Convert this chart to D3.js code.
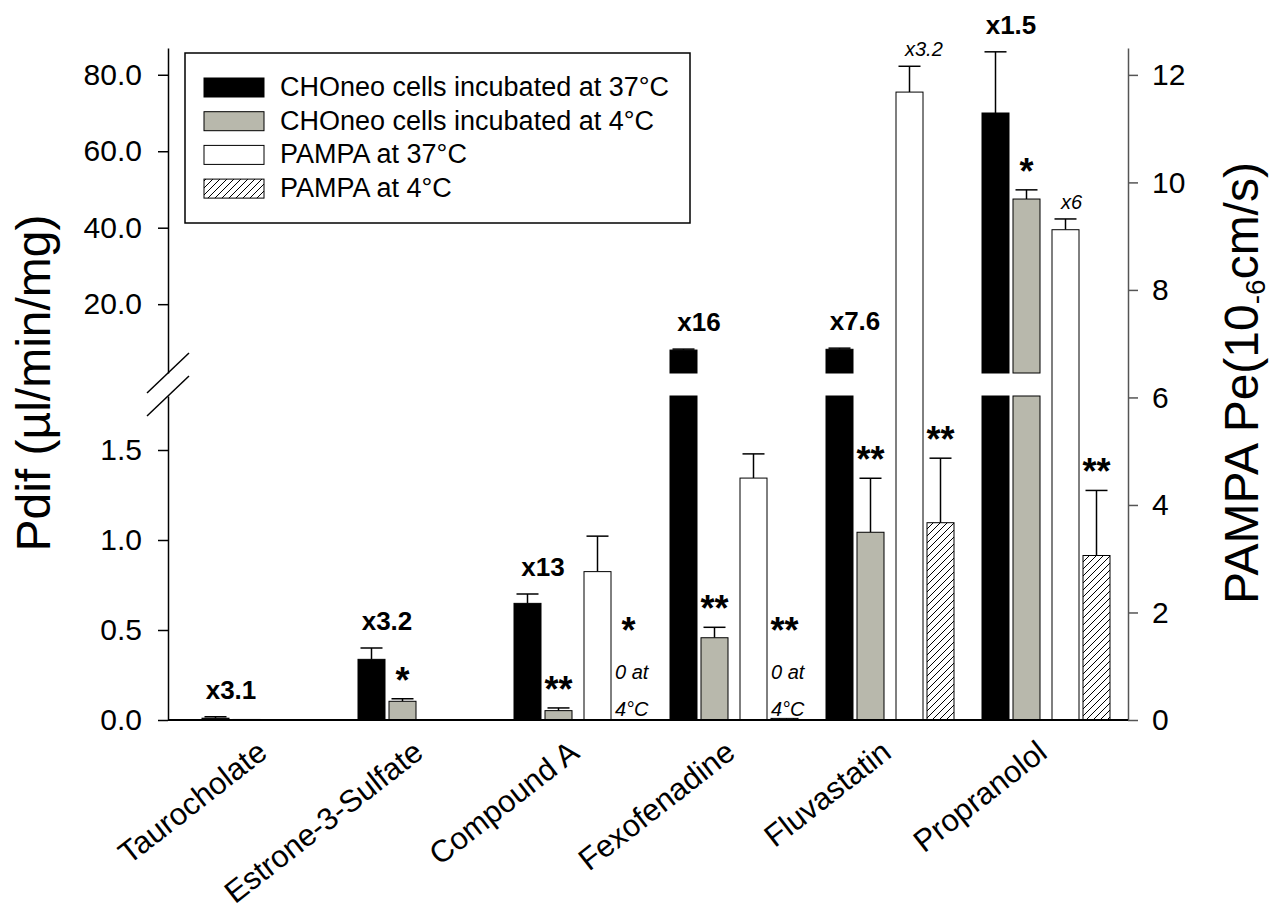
<!DOCTYPE html>
<html>
<head>
<meta charset="utf-8">
<script src="https://cdn.jsdelivr.net/npm/d3@7"></script>
<style>
body { margin: 0; background: #fff; }
svg { display: block; font-family: "Liberation Sans", Arial, sans-serif; }
</style>
</head>
<body>
<div id="chart"></div>
<script>
"use strict"
// values
const categories = ["Taurocholate", "Estrone-3-Sulfate", "Compound A", "Fexofenadine", "Fluvastatin", "Propranolol"];
const legendLabels = ["CHOneo cells incubated at 37°C", "CHOneo cells incubated at 4°C", "PAMPA at 37°C", "PAMPA at 4°C"];

// Pdif (left axis, µl/min/mg)
const cells37 = [0.01, 0.337, 0.648, 8.0, 8.2, 70.0];
const cells37Err = [0.008, 0.063, 0.052, 0.25, 0.3, 16.0];
const cells4 = [0.003, 0.104, 0.052, 0.457, 1.043, 47.5];
const cells4Err = [0, 0.014, 0.015, 0.058, 0.30, 2.4];
// PAMPA Pe (right axis, 10-6 cm/s)
const pampa37 = [null, null, 2.76, 4.50, 11.68, 9.12];
const pampa37Err = [null, null, 0.66, 0.45, 0.48, 0.20];
const pampa4 = [null, null, 0, 0.03, 3.67, 3.06];
const pampa4Err = [null, null, 0, 0, 1.20, 1.21];

// annotations
const foldCells = ["x3.1", "x3.2", "x13", "x16", "x7.6", "x1.5"];
const foldPampa = [null, null, null, null, "x3.2", "x6"];
const sigCells4 = ["", "*", "**", "**", "**", "*"];
const sigPampa4 = ["", "", "*", "**", "**", "**"];
const zeroAt4 = [false, false, true, true, false, false];
const zeroNote = ["0 at", "4°C"];

// tick values
const leftLowTicks = [0, 0.5, 1.0, 1.5];
const leftHighTicks = [20, 40, 60, 80];
const rightTicks = [0, 2, 4, 6, 8, 10, 12];

const W = 1276, H = 911;
const plotLeft = 168, plotRight = 1128, baseY = 720, topY = 48;

const svg = d3.select("#chart").append("svg").attr("width", W).attr("height", H);

const defs = svg.append("defs");
defs.append("pattern").attr("id", "hatch")
    .attr("patternUnits", "userSpaceOnUse").attr("width", 7).attr("height", 7)
    .append("path").attr("d", "M-1,1 l2,-2 M0,7 l7,-7 M6,8 l2,-2")
    .attr("stroke", "#000").attr("stroke-width", 1);

// scales
const x = d3.scaleBand().domain(categories).range([188, 1124]);
const xPair = d3.scaleBand().domain(["cells", "pampa"]).range([14, 142]).paddingInner(12 / 70);
const xTemp = d3.scaleBand().domain(["37", "4"]).range([0, xPair.bandwidth()]).paddingInner(4 / 31);

const breakLo = 1.8, breakHi = 2;
const yLow = d3.scaleLinear().domain([0, breakLo]).range([baseY, 396]);
const yHigh = d3.scaleLinear().domain([breakHi, 87]).range([373, topY]);
const yRight = d3.scaleLinear().domain([0, 12.5]).range([baseY, topY]);
function yLeft(v) { return v <= breakLo ? yLow(v) : yHigh(v); }

const series = [
    {pair: "cells", temp: "37", axis: "left", values: cells37, errs: cells37Err, fill: "#000"},
    {pair: "cells", temp: "4", axis: "left", values: cells4, errs: cells4Err, fill: "#b8b8ac"},
    {pair: "pampa", temp: "37", axis: "right", values: pampa37, errs: pampa37Err, fill: "#fff"},
    {pair: "pampa", temp: "4", axis: "right", values: pampa4, errs: pampa4Err, fill: "url(#hatch)"}
];

let bars = [];
series.forEach(function(s) {
    categories.forEach(function(c, i) {
        if (s.values[i] == null) return;
        bars.push({cat: c, i: i, s: s, v: s.values[i], e: s.errs[i]});
    });
});

function barX(d) { return x(d.cat) + xPair(d.s.pair) + xTemp(d.s.temp); }
function yOf(d, v) { return d.s.axis == "left" ? yLeft(v) : yRight(v); }
function pieces(d) {
    if (d.s.axis == "left" && d.v > breakLo) {
        return [[yLow(breakLo), baseY], [yHigh(d.v), yHigh(breakHi)]];
    }
    return [[yOf(d, d.v), baseY]];
}

const bw = xTemp.bandwidth();
const barG = svg.append("g");

// error bars (upper half only)
bars.filter(d => d.e > 0).forEach(function(d) {
    const cx = barX(d) + bw / 2;
    const y0 = yOf(d, d.v), y1 = yOf(d, d.v + d.e);
    barG.append("line").attr("x1", cx).attr("x2", cx).attr("y1", y0).attr("y2", y1)
        .attr("stroke", "#000").attr("stroke-width", 1.5);
    barG.append("line").attr("x1", cx - 11).attr("x2", cx + 11).attr("y1", y1).attr("y2", y1)
        .attr("stroke", "#000").attr("stroke-width", 1.5);
});

bars.forEach(function(d) {
    pieces(d).forEach(function(p) {
        barG.append("rect")
            .attr("x", barX(d)).attr("width", bw)
            .attr("y", p[0]).attr("height", Math.max(0, p[1] - p[0]))
            .attr("fill", d.s.fill).attr("stroke", "#000").attr("stroke-width", 1);
    });
});

// axes
function styleAxis(g, size) {
    g.selectAll("text").attr("font-size", size).attr("font-family", "Liberation Sans, Arial, sans-serif").attr("fill", "#000");
    g.select(".domain").attr("stroke-width", 1.5);
    g.selectAll(".tick line").attr("stroke-width", 1.5);
}

const axLow = svg.append("g").attr("transform", "translate(" + plotLeft + ",0)")
    .call(d3.axisLeft(yLow).tickValues(leftLowTicks).tickFormat(d3.format(".1f"))
        .tickSize(10).tickSizeOuter(0).tickPadding(16));
styleAxis(axLow, 30);
const axHigh = svg.append("g").attr("transform", "translate(" + plotLeft + ",0)")
    .call(d3.axisLeft(yHigh).tickValues(leftHighTicks).tickFormat(d3.format(".1f"))
        .tickSize(10).tickSizeOuter(0).tickPadding(16));
styleAxis(axHigh, 30);

const axRight = svg.append("g").attr("transform", "translate(" + plotRight + ",0)")
    .call(d3.axisRight(yRight).tickValues(rightTicks).tickSize(10).tickSizeOuter(0).tickPadding(14));
styleAxis(axRight, 30);
axRight.select(".domain").attr("stroke", "#555");
axRight.selectAll(".tick line").attr("stroke", "#555");

// axis break marks
[yHigh(breakHi), yLow(breakLo)].forEach(function(yy) {
    svg.append("line")
        .attr("x1", plotLeft - 21).attr("y1", yy + 20)
        .attr("x2", plotLeft + 21).attr("y2", yy - 20)
        .attr("stroke", "#000").attr("stroke-width", 1.5);
});

// baseline
svg.append("line").attr("x1", plotLeft).attr("x2", plotRight).attr("y1", baseY).attr("y2", baseY)
    .attr("stroke", "#000").attr("stroke-width", 2);

// category labels
categories.forEach(function(c) {
    const cx = x(c) + x.bandwidth() / 2 + 3;
    svg.append("text")
        .attr("transform", "translate(" + cx + "," + 756 + ") rotate(-38)")
        .attr("text-anchor", "end").attr("font-size", 31).text(c);
});

// axis titles
svg.append("text")
    .attr("transform", "translate(50," + 383 + ") rotate(-90)")
    .attr("text-anchor", "middle").attr("font-size", 48)
    .text("Pdif (µl/min/mg)");

const rt = svg.append("text")
    .attr("transform", "translate(1258," + 383 + ") rotate(-90)")
    .attr("text-anchor", "middle").attr("font-size", 48);
rt.append("tspan").text("PAMPA Pe(10");
rt.append("tspan").attr("font-size", 28).attr("dy", "0.25em").text("-6");
rt.append("tspan").attr("dy", "-0.15em").text("cm/s)");

// annotations
const annG = svg.append("g");
function barOf(si, i) { return bars.find(b => b.s === series[si] && b.i === i); }

categories.forEach(function(c, i) {
    const b37 = barOf(0, i);
    const pairCx = x(c) + xPair("cells") + xPair.bandwidth() / 2;
    annG.append("text").attr("x", pairCx).attr("y", yOf(b37, b37.v + b37.e) - 18)
        .attr("text-anchor", "middle").attr("font-size", 26).attr("font-weight", "bold")
        .text(foldCells[i]);

    const b4 = barOf(1, i);
    if (sigCells4[i]) {
        annG.append("text").attr("x", barX(b4) + bw / 2).attr("y", yOf(b4, b4.v + b4.e) - 6)
            .attr("text-anchor", "middle").attr("font-size", 36).attr("font-weight", "bold")
            .text(sigCells4[i]);
    }

    const p37 = barOf(2, i);
    if (p37 && foldPampa[i]) {
        annG.append("text").attr("x", barX(p37) + 9).attr("y", yOf(p37, p37.v + p37.e) - 10)
            .attr("font-size", 20).attr("font-style", "italic")
            .text(foldPampa[i]);
    }

    const p4 = barOf(3, i);
    if (p4) {
        let sigY = yOf(p4, p4.v + p4.e) - 6;
        if (zeroAt4[i]) {
            annG.append("text").attr("x", barX(p4)).attr("y", baseY - 41)
                .attr("font-size", 20).attr("font-style", "italic").text(zeroNote[0]);
            annG.append("text").attr("x", barX(p4)).attr("y", baseY - 4)
                .attr("font-size", 20).attr("font-style", "italic").text(zeroNote[1]);
            sigY = baseY - 77;
        }
        if (sigPampa4[i]) {
            annG.append("text").attr("x", barX(p4) + bw / 2).attr("y", sigY)
                .attr("text-anchor", "middle").attr("font-size", 36).attr("font-weight", "bold")
                .text(sigPampa4[i]);
        }
    }
});

// legend
const legend = svg.append("g").attr("transform", "translate(185,53)");
legend.append("rect").attr("width", 505).attr("height", 170)
    .attr("fill", "#fff").attr("stroke", "#000").attr("stroke-width", 1.5);
series.forEach(function(s, k) {
    const rowY = 25 + k * 33.7;
    legend.append("rect").attr("x", 19).attr("y", rowY).attr("width", 60).attr("height", 19)
        .attr("fill", s.fill).attr("stroke", "#000").attr("stroke-width", 1);
    legend.append("text").attr("x", 95).attr("y", rowY + 18).attr("font-size", 27)
        .text(legendLabels[k]);
});
</script>
</body>
</html>
